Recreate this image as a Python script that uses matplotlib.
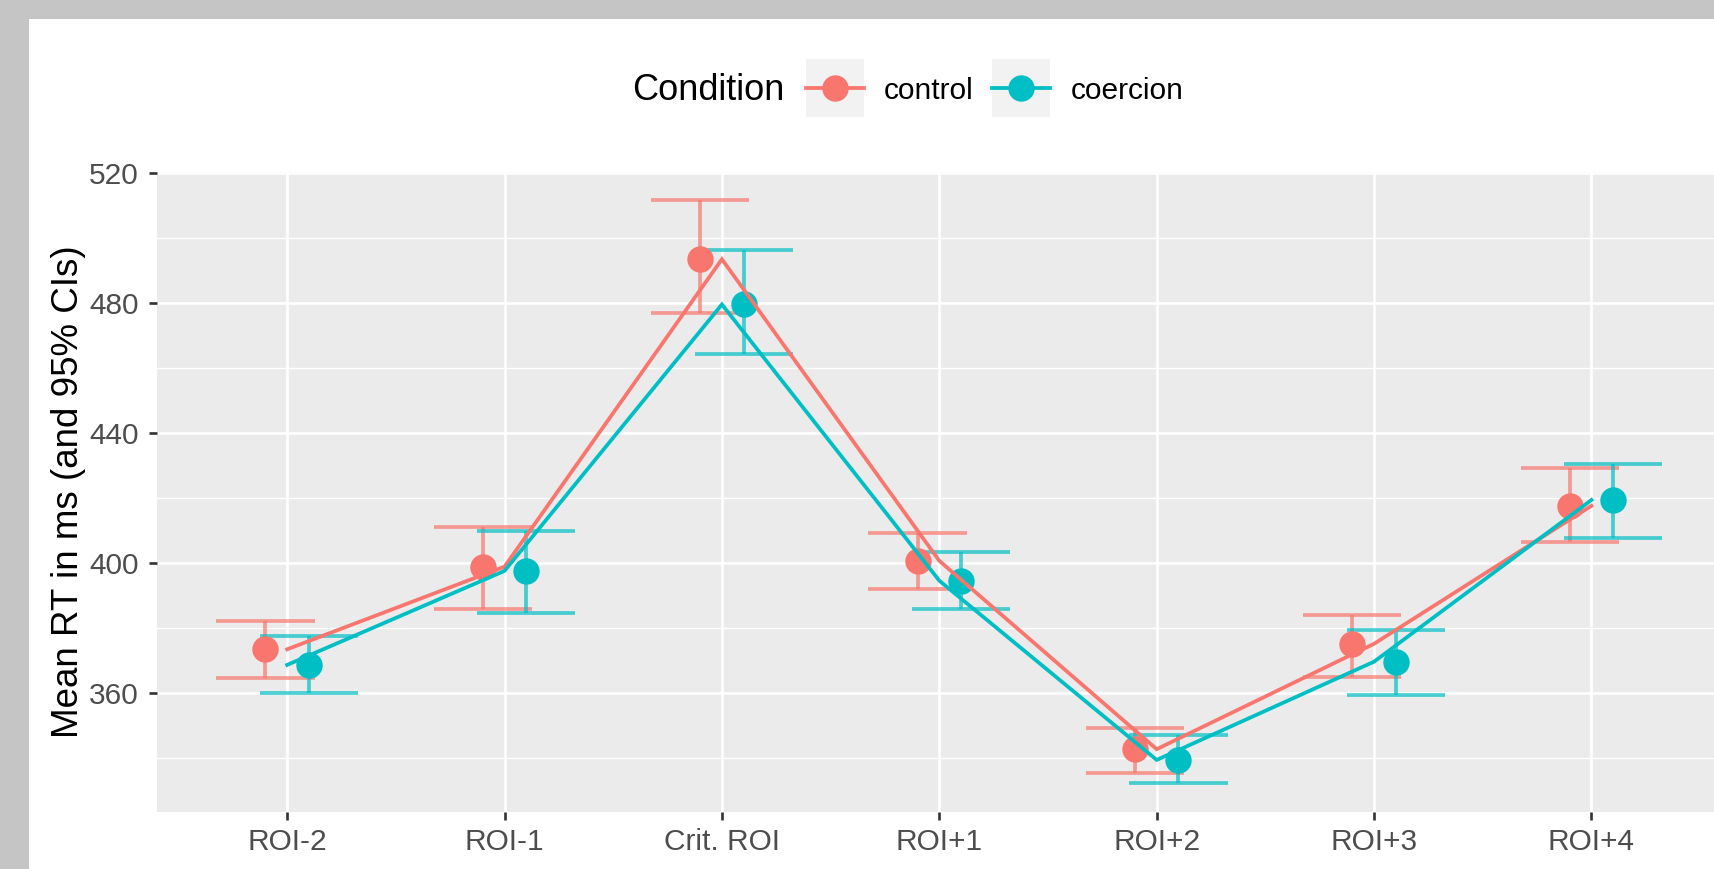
import numpy as np
import matplotlib
matplotlib.use("Agg")
import matplotlib.pyplot as plt
from matplotlib.patches import Rectangle
from matplotlib.lines import Line2D
from matplotlib.legend_handler import HandlerTuple

plt.rcParams['font.family'] = ['Liberation Sans', 'DejaVu Sans']

# data
categories = ['ROI-2', 'ROI-1', 'Crit. ROI', 'ROI+1', 'ROI+2', 'ROI+3', 'ROI+4']
control_mean = [373.5, 398.9, 493.4, 400.7, 342.8, 375.2, 417.6]
control_lo = [364.6, 385.8, 476.8, 392.0, 335.6, 365.1, 406.6]
control_hi = [382.3, 411.0, 511.6, 409.2, 349.2, 384.1, 429.1]
coercion_mean = [368.7, 397.6, 479.5, 394.6, 339.5, 369.7, 419.4]
coercion_lo = [360.0, 384.6, 464.2, 385.8, 332.5, 359.5, 407.8]
coercion_hi = [377.6, 410.0, 496.2, 403.5, 347.2, 379.5, 430.5]
yticks = [360, 400, 440, 480, 520]

RED = '#F8766D'
TEAL = '#00BFC4'
dodge = 0.1
cap_half = 0.226
LW = 2.7

W, H = 1715, 869
fig = plt.figure(figsize=(W / 100, H / 100), dpi=100, facecolor='#c4c5c4')
fig.patches.append(Rectangle((29 / W, 0), 1, 1 - 19 / H, transform=fig.transFigure,
                             facecolor='white', edgecolor='none', zorder=-5))

ax = fig.add_axes([156.7 / W, 1 - 812.3 / H, 1565.2 / W, 640.6 / H])
ax.set_facecolor('#ebebeb')
for s in ax.spines.values():
    s.set_visible(False)

x = np.arange(1, len(categories) + 1)

series = [
    ('control', RED, control_mean, control_lo, control_hi, -dodge),
    ('coercion', TEAL, coercion_mean, coercion_lo, coercion_hi, dodge),
]

for name, col, m, lo, hi, off in series:
    xd = x + off
    ax.vlines(xd, lo, hi, colors=col, alpha=0.7, lw=LW, capstyle='butt', zorder=2)
    ax.hlines(lo, xd - cap_half, xd + cap_half, colors=col, alpha=0.7, lw=LW,
              capstyle='butt', zorder=2)
    ax.hlines(hi, xd - cap_half, xd + cap_half, colors=col, alpha=0.7, lw=LW,
              capstyle='butt', zorder=2)
    ax.plot(xd, m, 'o', color=col, ms=19, mew=0, zorder=3)

for name, col, m, lo, hi, off in series:
    ax.plot(x, m, '-', color=col, lw=LW, zorder=4, solid_joinstyle='miter')

ax.set_xlim(0.4, 7.6)
ax.set_ylim(323.4, 520.3)
ax.set_xticks(x)
ax.set_xticklabels(categories)
ax.set_yticks(yticks)
ax.set_yticks([340, 380, 420, 460, 500], minor=True)
ax.grid(which='major', color='white', lw=1.9, zorder=1)
ax.grid(which='minor', axis='y', color='white', lw=0.95, zorder=1)
ax.set_axisbelow(True)
ax.tick_params(axis='both', which='major', length=6, width=1.9, color='#333333',
               labelcolor='#4d4d4d', labelsize=21.5)
ax.tick_params(axis='y', pad=7)
ax.tick_params(axis='x', pad=5)
ax.tick_params(which='minor', length=0)

ax.set_ylabel('Mean RT in ms (and 95% CIs)', fontsize=26.5, color='black')
ax.yaxis.set_label_coords(-0.0452, 0.5)

# legend, ggplot style: title on the left, keys with grey squares
handles = []
for name, col, m, lo, hi, off in series:
    bg = Line2D([], [], ls='none', marker='s', ms=41.8, mew=0, color='#f2f2f2')
    ln = Line2D([], [], color=col, lw=LW, marker='o', ms=19, mew=0)
    handles.append((bg, ln))
fig.legend(handles, [s[0] for s in series], handler_map={tuple: HandlerTuple(ndivide=1)},
           loc='center left', bbox_to_anchor=(806 / W, 1 - 90.5 / H), ncol=2,
           frameon=False, fontsize=21.5, handlelength=1.94, handleheight=1.0,
           handletextpad=0.67, columnspacing=0.63, borderpad=0, borderaxespad=0,
           numpoints=1)
fig.text(785 / W, 1 - 90 / H, 'Condition', ha='right', va='center', fontsize=26)

fig.savefig('out.png', dpi=100, facecolor=fig.get_facecolor())
